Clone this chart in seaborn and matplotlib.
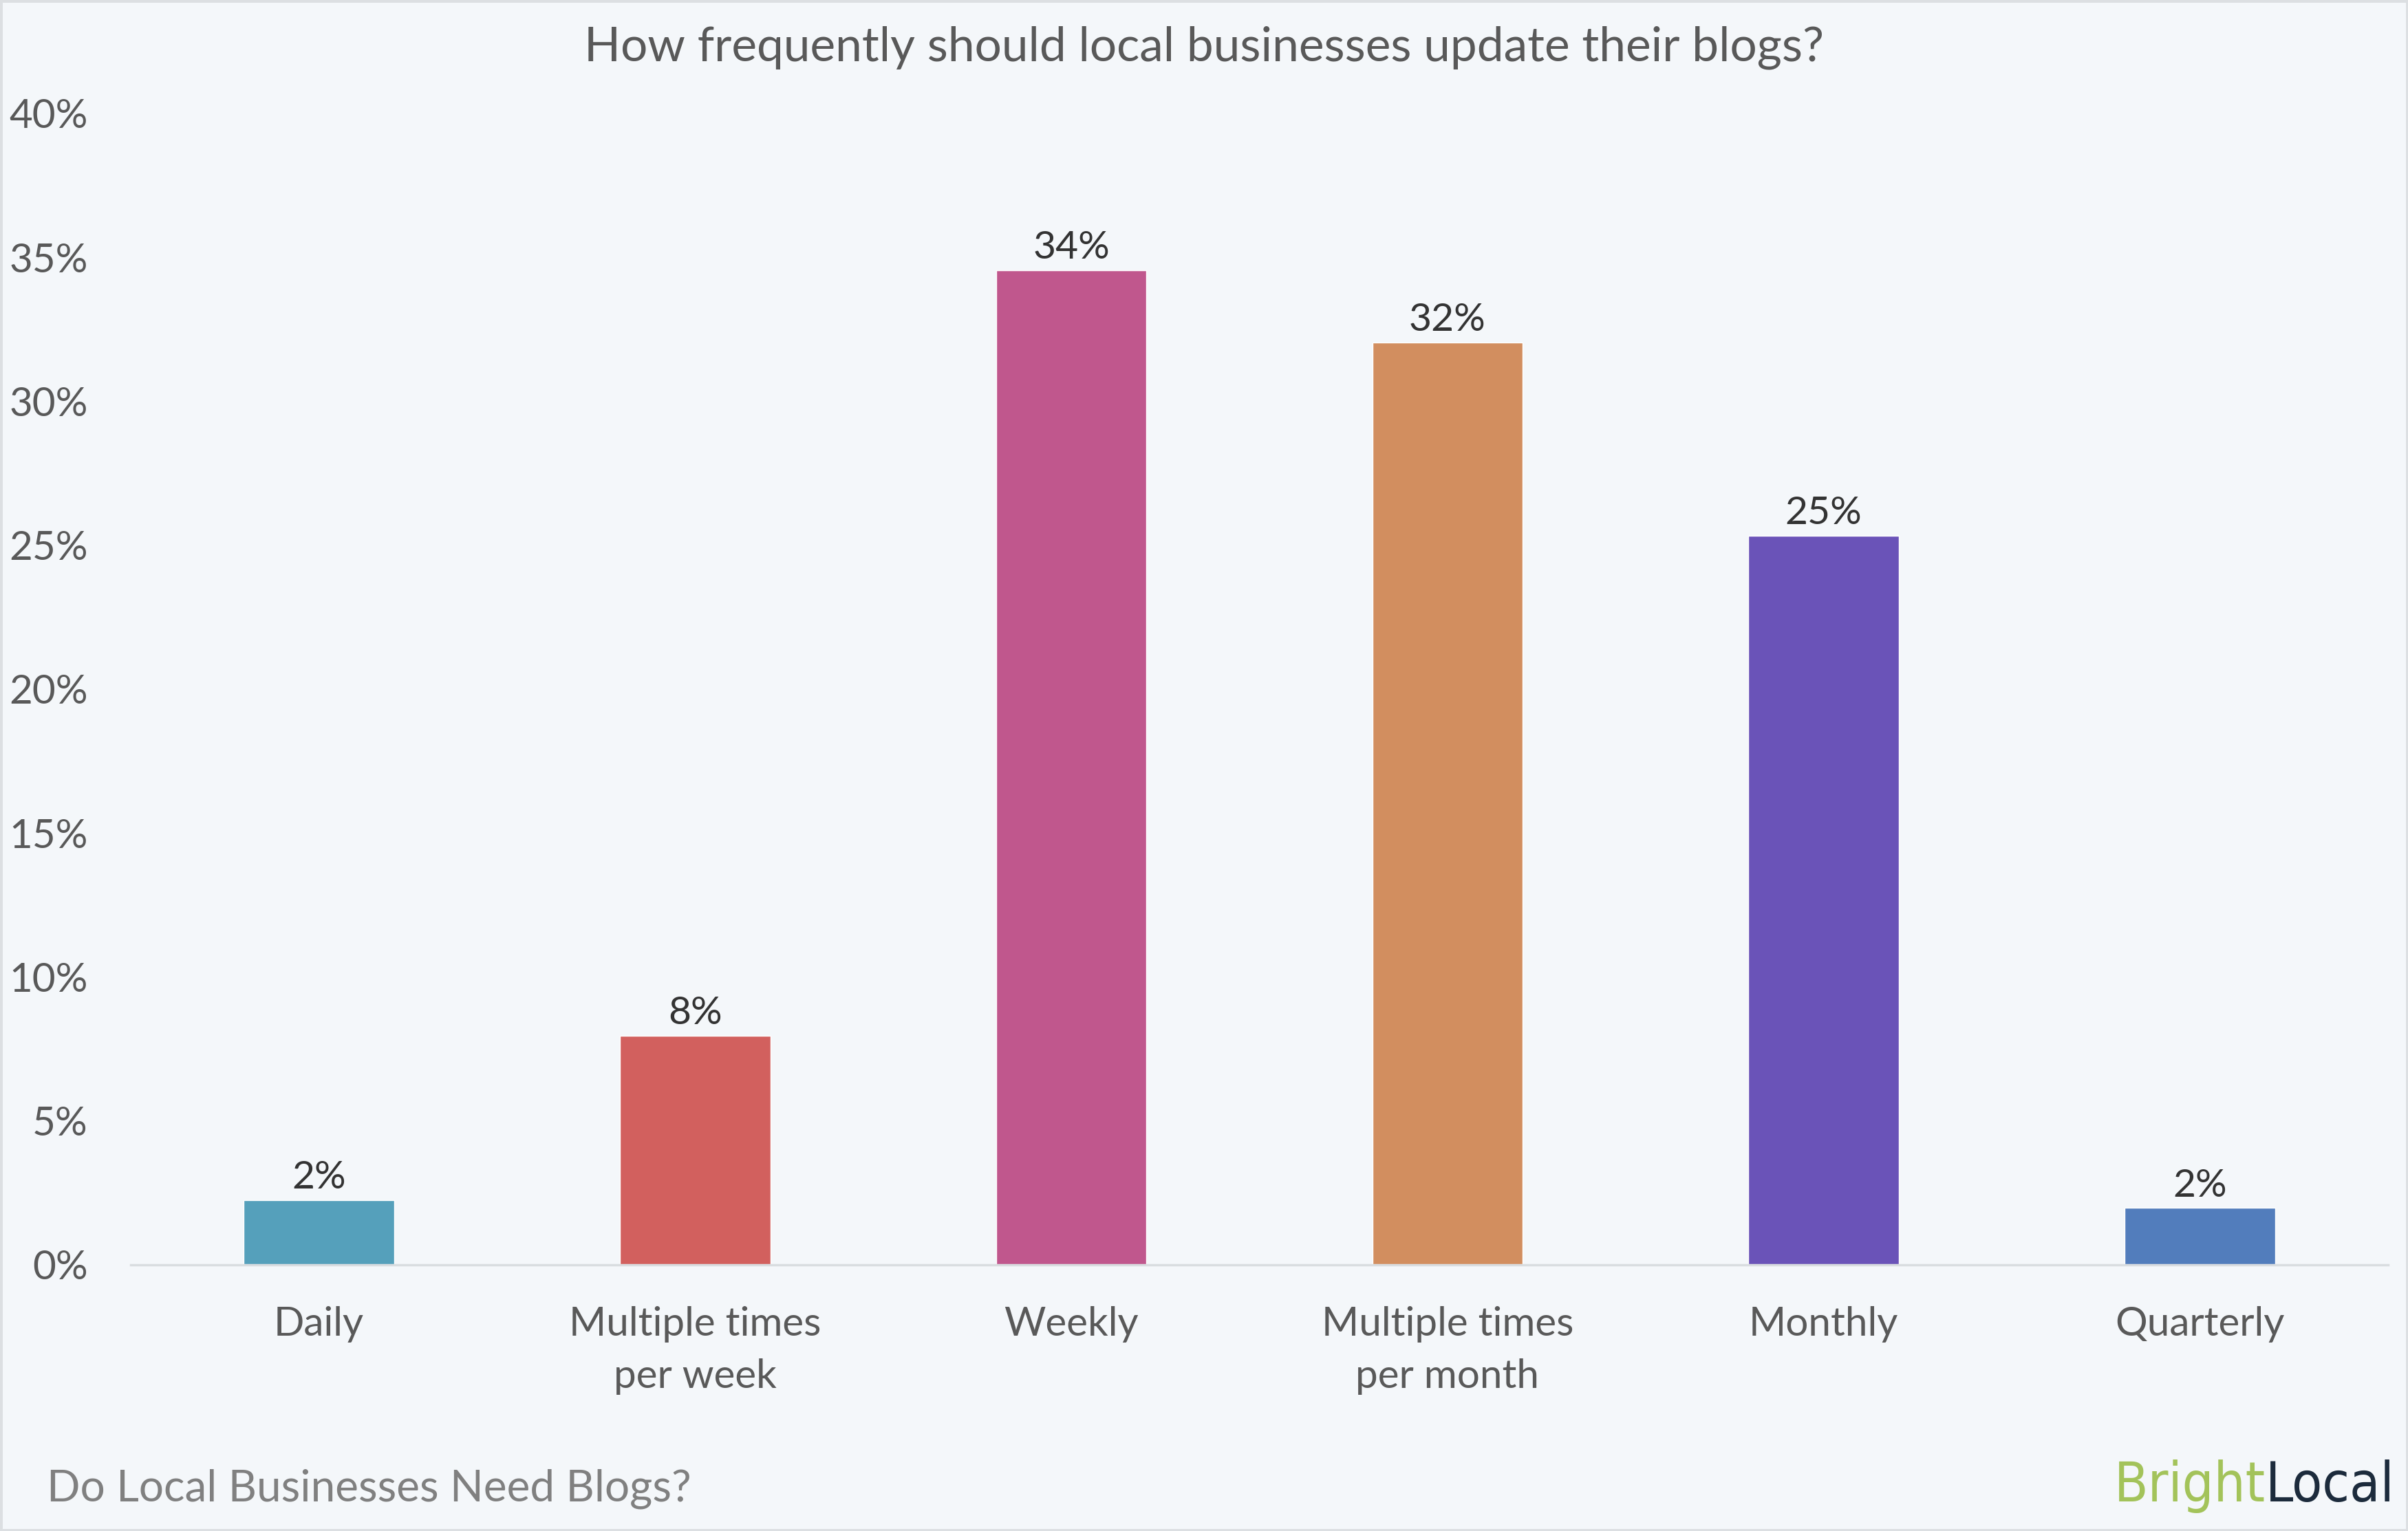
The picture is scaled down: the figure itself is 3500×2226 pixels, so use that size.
import matplotlib
matplotlib.use("Agg")
import matplotlib.pyplot as plt
import seaborn as sns
from matplotlib.patches import Rectangle

# data
categories = ["Daily", "Multiple times\nper week", "Weekly",
              "Multiple times\nper month", "Monthly", "Quarterly"]
values = [2.24, 7.95, 34.56, 32.05, 25.33, 1.97]
value_labels = ["2%", "8%", "34%", "32%", "25%", "2%"]
bar_colors = ["#55A0BB", "#D2605E", "#C0578D", "#D28E5F", "#6A53B8", "#527DBC"]
y_ticks = [0, 5, 10, 15, 20, 25, 30, 35, 40]

bg = "#F4F7FA"

sns.set_theme(style="white")
plt.rcParams["font.family"] = ["Lato", "DejaVu Sans"]

fig = plt.figure(figsize=(35, 22.26), dpi=100, facecolor=bg)
ax = fig.add_axes([0.0543, 0.1739, 0.9374, 0.752])
ax.set_facecolor(bg)

sns.barplot(x=categories, y=values, hue=categories, palette=bar_colors,
            legend=False, width=0.4, saturation=1, ax=ax)

ax.set_xlim(-0.5, 5.5)
ax.set_ylim(0, 40)
ax.set_yticks(y_ticks)
ax.set_yticklabels([f"{t}%" for t in y_ticks])
ax.set_xlabel("")
ax.set_ylabel("")

for s in ["top", "right", "left"]:
    ax.spines[s].set_visible(False)
ax.spines["bottom"].set_color("#D9DDE0")
ax.spines["bottom"].set_linewidth(2.5)

ax.tick_params(axis="y", length=0, pad=45, labelsize=42, labelcolor="#595959")
ax.tick_params(axis="x", length=0, pad=43, labelsize=42, labelcolor="#595959")
for lab in ax.get_xticklabels():
    lab.set_linespacing(1.55)

# value labels over the bars
for i, (v, txt) in enumerate(zip(values, value_labels)):
    ax.annotate(txt, (i, v), xytext=(0, 5), textcoords="offset points",
                ha="center", va="bottom", fontsize=41, color="#333333")

fig.text(0.5, 0.969, "How frequently should local businesses update their blogs?",
         ha="center", va="center", fontsize=50, color="#595959")
fig.text(0.0195, 0.0195, "Do Local Businesses Need Blogs?", ha="left",
         va="baseline", fontsize=46, color="#808080")

# logo text, right aligned
local = fig.text(0.9945, 0.0195, "Local", ha="right", va="baseline",
                 fontsize=58, color="#1C2B3C", family="DejaVu Sans",
                 fontstretch="condensed")
fig.canvas.draw()
bb = local.get_window_extent().transformed(fig.transFigure.inverted())
fig.text(bb.x0, 0.0195, "Bright", ha="right", va="baseline",
         fontsize=58, color="#A3C35A", family="DejaVu Sans",
         fontstretch="condensed")

# thin frame around the whole figure
fig.patches.append(Rectangle((0, 0), 1, 1, transform=fig.transFigure,
                             fill=False, edgecolor="#DCDFE2", linewidth=5))

fig.savefig("out.png", dpi=100, facecolor=bg)
